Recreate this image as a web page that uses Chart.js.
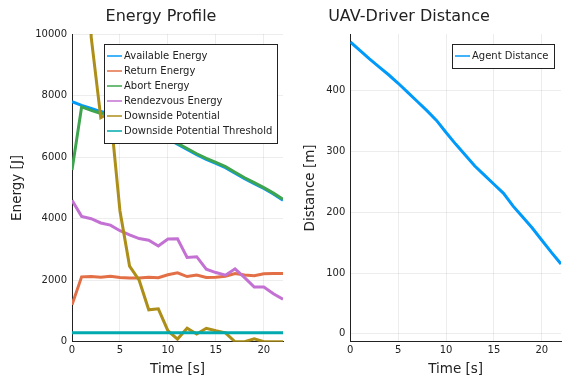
<!DOCTYPE html>
<html>
<head>
<meta charset="utf-8">
<script src="https://cdn.jsdelivr.net/npm/chart.js@4.4.0/dist/chart.umd.min.js"></script>
<style>
  html, body { margin: 0; padding: 0; background: #fff; }
  #wrap { position: relative; width: 579px; height: 381px; overflow: hidden; }
  canvas { position: absolute; top: 0; }
</style>
</head>
<body>
<div id="wrap">
  <canvas id="energy" width="290" height="381" style="left:0"></canvas>
  <canvas id="dist" width="289" height="381" style="left:290px"></canvas>
</div>
<script>
// data
const time = [0, 1, 2, 3, 4, 5, 6, 7, 8, 9, 10, 11, 12, 13, 14, 15, 16, 17, 18, 19, 20, 21, 22];
const availableEnergy = [7800, 7680, 7580, 7480, 7400, 7300, 7200, 7080, 6940, 6800, 6600, 6420, 6250, 6080, 5930, 5800, 5660, 5480, 5300, 5140, 4980, 4800, 4600];
const returnEnergy = [1200, 2110, 2120, 2100, 2130, 2090, 2070, 2070, 2100, 2080, 2180, 2240, 2120, 2170, 2090, 2100, 2130, 2220, 2170, 2150, 2210, 2220, 2220];
const abortEnergy = [5580, 7630, 7520, 7420, 7430, 7330, 7230, 7110, 6970, 6830, 6630, 6450, 6280, 6110, 5960, 5830, 5690, 5510, 5330, 5170, 5010, 4830, 4630];
const rendezvousEnergy = [4600, 4075, 4000, 3860, 3790, 3610, 3475, 3355, 3300, 3115, 3340, 3345, 2740, 2765, 2360, 2250, 2165, 2370, 2085, 1780, 1780, 1560, 1380];
const downsidePotential = [30000, 22000, 9900, 7280, 7450, 4250, 2460, 2000, 1040, 1070, 360, 90, 440, 250, 440, 360, 290, 0, 0, 100, 0, 0, 0];
const downsideThreshold = [290, 290, 290, 290, 290, 290, 290, 290, 290, 290, 290, 290, 290, 290, 290, 290, 290, 290, 290, 290, 290, 290, 290];
const agentDistance = [480, 466, 452, 439, 426, 412, 397, 382, 367, 351, 331, 312, 294, 276, 261, 246, 231, 210, 192, 174, 154, 134, 115];

const energyLabels = ['Available Energy', 'Return Energy', 'Abort Energy', 'Rendezvous Energy', 'Downside Potential', 'Downside Potential Threshold'];
const energySeries = [availableEnergy, returnEnergy, abortEnergy, rendezvousEnergy, downsidePotential, downsideThreshold];
const palette = ['#009AFA', '#E36F47', '#3EA44E', '#C371D2', '#AC8E18', '#00AAAE'];

const xTicks = [0, 5, 10, 15, 20];
const energyTicks = [0, 2000, 4000, 6000, 8000, 10000];
const distTicks = [0, 100, 200, 300, 400];

const FONT = "'DejaVu Sans', sans-serif";

// subplot title, centred like the reference (over the whole subplot, not the plot area)
const plotTitle = {
  id: 'plotTitle',
  afterDraw(chart, args, o) {
    const ctx = chart.ctx;
    ctx.save();
    ctx.font = '16px ' + FONT;
    ctx.fillStyle = '#222';
    ctx.textAlign = 'center';
    ctx.textBaseline = 'middle';
    ctx.fillText(o.text, o.x, o.y);
    ctx.restore();
  }
};

// legend box drawn inside the plot area, top right
const boxLegend = {
  id: 'boxLegend',
  afterDatasetsDraw(chart, args, o) {
    const ctx = chart.ctx, area = chart.chartArea;
    const sets = chart.data.datasets;
    ctx.save();
    ctx.font = '10px ' + FONT;
    const textW = Math.max(...sets.map(d => ctx.measureText(d.label).width));
    const w = Math.round(3 + 15 + 2 + textW + 5);
    const h = Math.round(sets.length * 15 + 9);
    const x = Math.round(area.right - o.right - w), y = Math.round(area.top + o.top);
    ctx.fillStyle = '#fff';
    ctx.fillRect(x, y, w, h);
    ctx.strokeStyle = '#222';
    ctx.lineWidth = 1;
    ctx.strokeRect(x + 0.5, y + 0.5, w, h);
    ctx.textBaseline = 'middle';
    sets.forEach((d, i) => {
      const cy = y + 4.5 + 15 * (i + 0.5);
      ctx.strokeStyle = d.borderColor;
      ctx.lineWidth = 1.5;
      ctx.beginPath();
      ctx.moveTo(x + 3, cy);
      ctx.lineTo(x + 18, cy);
      ctx.stroke();
      ctx.fillStyle = '#222';
      ctx.fillText(d.label, x + 20, cy + 0.5);
    });
    ctx.restore();
  }
};

function axes(yMin, yMax, yTickVals, yTitle, yTitlePad) {
  return {
    x: {
      type: 'linear', min: 0, max: 22,
      afterBuildTicks: ax => { ax.ticks = xTicks.map(v => ({ value: v })); },
      grid: { color: 'rgba(0,0,0,0.07)', drawTicks: false },
      border: { display: true, color: '#222', width: 1 },
      ticks: { font: { family: FONT, size: 10 }, color: '#222', padding: 3, maxRotation: 0, callback: v => String(v) },
      title: { display: true, text: 'Time [s]', font: { family: FONT, size: 13.5 }, color: '#222', padding: { top: 2, bottom: 3 } }
    },
    y: {
      type: 'linear', min: yMin, max: yMax,
      afterBuildTicks: ax => { ax.ticks = yTickVals.map(v => ({ value: v })); },
      grid: { color: 'rgba(0,0,0,0.07)', drawTicks: false },
      border: { display: true, color: '#222', width: 1 },
      ticks: { font: { family: FONT, size: 10 }, color: '#222', padding: 5, callback: v => String(v) },
      title: { display: true, text: yTitle, font: { family: FONT, size: 13.5 }, color: '#222', padding: yTitlePad }
    }
  };
}

new Chart(document.getElementById('energy'), {
  type: 'line',
  data: {
    labels: time,
    datasets: energySeries.map((s, i) => ({
      label: energyLabels[i],
      data: time.map((t, j) => ({ x: t, y: s[j] })),
      borderColor: palette[i],
      backgroundColor: palette[i],
      borderWidth: 3,
      pointRadius: 0,
      tension: 0,
      clip: 0,
      order: energySeries.length - i
    }))
  },
  options: {
    responsive: false,
    animation: false,
    layout: { padding: { left: 5, right: 7, top: 34, bottom: 0 } },
    scales: axes(0, 10000, energyTicks, 'Energy [J]', { top: 4, bottom: 5 }),
    plugins: {
      legend: { display: false },
      tooltip: { enabled: false },
      title: { display: false },
      plotTitle: { text: 'Energy Profile', x: 161, y: 17 },
      boxLegend: { right: 6, top: 10 }
    }
  },
  plugins: [boxLegend, plotTitle]
});

new Chart(document.getElementById('dist'), {
  type: 'line',
  data: {
    labels: time,
    datasets: [{
      label: 'Agent Distance',
      data: time.map((t, j) => ({ x: t, y: agentDistance[j] })),
      borderColor: palette[0],
      backgroundColor: palette[0],
      borderWidth: 3,
      pointRadius: 0,
      tension: 0,
      clip: 0
    }]
  },
  options: {
    responsive: false,
    animation: false,
    layout: { padding: { left: 8, right: 18, top: 34, bottom: 0 } },
    scales: axes(-13, 493, distTicks, 'Distance [m]', { top: 4, bottom: 3 }),
    plugins: {
      legend: { display: false },
      tooltip: { enabled: false },
      title: { display: false },
      plotTitle: { text: 'UAV-Driver Distance', x: 119, y: 17 },
      boxLegend: { right: 7, top: 10 }
    }
  },
  plugins: [boxLegend, plotTitle]
});
</script>
</body>
</html>
